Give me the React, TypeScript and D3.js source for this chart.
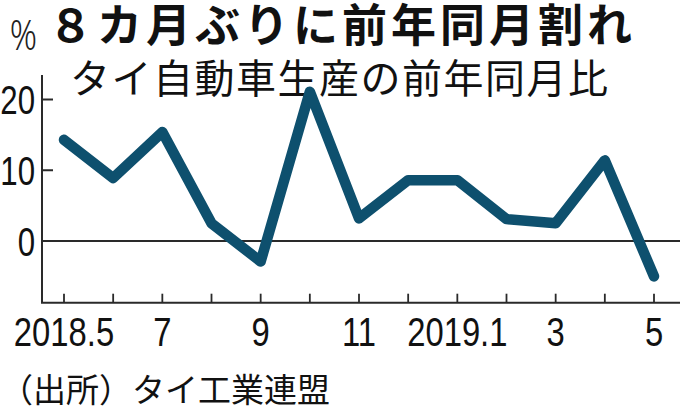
import React from "react";
import * as d3 from "d3";

const months = ["2018.5", "6", "7", "8", "9", "10", "11", "12", "2019.1", "2", "3", "4", "5"];
const values = [14.3, 8.9, 15.4, 2.5, -2.9, 21.1, 3.2, 8.6, 8.6, 3.1, 2.5, 11.4, -5.0];
const xTickLabels = ["2018.5", "7", "9", "11", "2019.1", "3", "5"];
const yTicks = [0, 10, 20];

const title = "８カ月ぶりに前年同月割れ";
const subtitle = "タイ自動車生産の前年同月比";
const source = "（出所）タイ工業連盟";
const unit = "%";

const W = 680;
const H = 414;
const NUM_FONT = "'Liberation Sans', Arial, sans-serif";
const JP_FONT = "'Noto Sans CJK JP', 'Noto Sans CJK SC', sans-serif";

export default function App() {
  const x = d3.scalePoint<string>().domain(months).range([64, 654]);
  const y = d3.scaleLinear().domain([0, 20]).range([241, 99.5]);
  const axisLeft = 42;
  const axisBottom = 302.7;
  const axisTop = 75;

  const line = d3
    .line<number>()
    .x((_, i) => x(months[i]) as number)
    .y((d) => y(d));

  const ink = "#2a2a2a";

  return (
    <svg
      width={W}
      height={H}
      viewBox={`0 0 ${W} ${H}`}
      style={{ position: "absolute", left: 0, top: 0, background: "#fff" }}
    >
      <rect x={0} y={0} width={W} height={H} fill="#fff" />
      {/* title */}
      <text
        x={48}
        y={42}
        fontFamily={JP_FONT}
        fontWeight={700}
        fontSize={45}
        letterSpacing={4}
        fill="#111"
      >
        {title}
      </text>
      <text
        x={70}
        y={93}
        fontFamily={JP_FONT}
        fontWeight={400}
        fontSize={40}
        letterSpacing={1.5}
        fill="#111"
      >
        {subtitle}
      </text>
      <text
        transform={`translate(23.5,50) scale(0.8,1)`}
        textAnchor="middle"
        fontFamily="'Noto Sans', sans-serif"
        fontWeight={300}
        fontSize={42}
        fill="#222"
      >
        {unit}
      </text>

      {/* y axis */}
      <line x1={axisLeft} x2={axisLeft} y1={axisTop} y2={axisBottom} stroke={ink} strokeWidth={2} />
      {yTicks
        .filter((t) => t !== 0)
        .map((t) => (
          <line key={"yt" + t} x1={axisLeft} x2={axisLeft + 11} y1={y(t)} y2={y(t)} stroke={ink} strokeWidth={2} />
        ))}
      {yTicks.map((t) => (
        <text
          key={"yl" + t}
          transform={`translate(35,${y(t) + 14.5}) scale(0.78,1)`}
          textAnchor="end"
          fontFamily={NUM_FONT}
          fontSize={40}
          fill="#111"
        >
          {t}
        </text>
      ))}
      {/* zero line */}
      <line x1={axisLeft} x2={W} y1={y(0)} y2={y(0)} stroke={ink} strokeWidth={2} />

      {/* x axis */}
      <line x1={axisLeft - 1} x2={W} y1={axisBottom} y2={axisBottom} stroke={ink} strokeWidth={2} />
      {months.map((m) => (
        <line
          key={"xt" + m}
          x1={x(m)}
          x2={x(m)}
          y1={axisBottom}
          y2={axisBottom - 9}
          stroke={ink}
          strokeWidth={1.8}
        />
      ))}
      {months.map((m, i) =>
        i % 2 === 0 ? (
          <text
            key={"xl" + m}
            transform={`translate(${x(m)},346) scale(0.82,1)`}
            textAnchor="middle"
            fontFamily={NUM_FONT}
            fontSize={40}
            fill="#111"
          >
            {xTickLabels[i / 2]}
          </text>
        ) : null
      )}

      {/* data line */}
      <path
        d={line(values) || ""}
        fill="none"
        stroke="#0e506e"
        strokeWidth={10.5}
        strokeLinejoin="round"
        strokeLinecap="round"
      />

      {/* source */}
      <text x={0} y={402} fontFamily={JP_FONT} fontSize={33} fill="#111">
        {source}
      </text>
    </svg>
  );
}
